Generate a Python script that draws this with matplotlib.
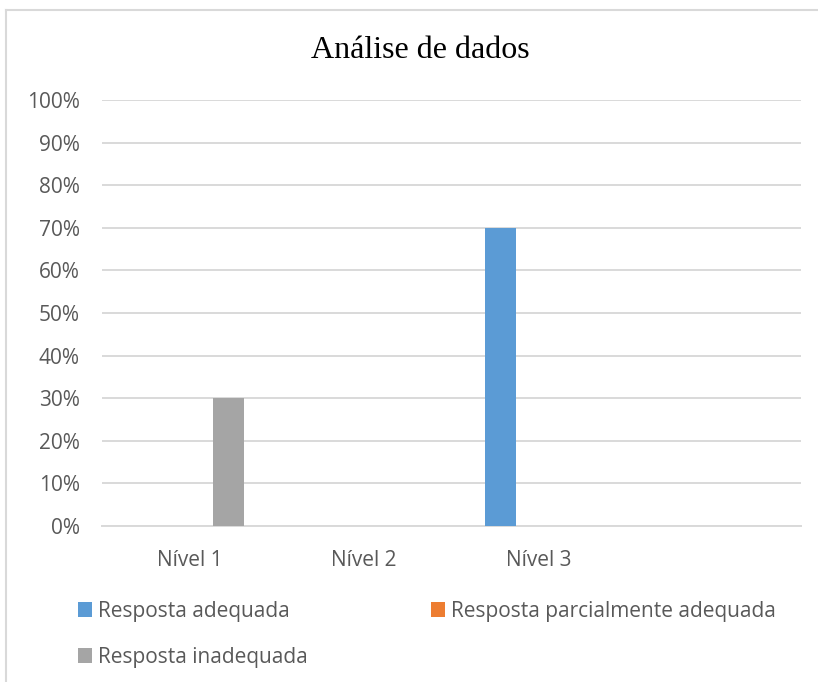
import numpy as np
import matplotlib.pyplot as plt
from matplotlib.lines import Line2D
from matplotlib.ticker import PercentFormatter

# data
categories = ['Nível 1', 'Nível 2', 'Nível 3', '']
series_names = ['Resposta adequada', 'Resposta parcialmente adequada', 'Resposta inadequada']
adequada = [0.0, 0.0, 0.70, 0.0]
parcial = [0.0, 0.0, 0.0, 0.0]
inadequada = [0.30, 0.0, 0.0, 0.0]
colors = ['#5b9bd5', '#ed7d31', '#a5a5a5']

text_col = '#595959'
grid_col = '#d9d9d9'

fig = plt.figure(figsize=(8.18, 6.82), dpi=100)
ax = fig.add_axes([0.1247, 0.2287, 0.8545, 0.6247])

# outer chart frame: only the top and left edges show in the crop
top = 1 - 9.5/682
left = 6/818
fig.lines.append(Line2D([left, 1.0], [top, top], transform=fig.transFigure,
                        color=grid_col, linewidth=1.5))
fig.lines.append(Line2D([left, left], [0, top], transform=fig.transFigure,
                        color=grid_col, linewidth=1.5))

x = np.arange(len(categories))
width = 0.177
offset = 0.222
bars = []
for i, (vals, name) in enumerate(zip([adequada, parcial, inadequada], series_names)):
    bars.append(ax.bar(x + (i - 1) * offset, vals, width, color=colors[i], label=name, zorder=3))

ax.set_xlim(-0.5, len(categories) - 0.5)
ax.set_ylim(0, 1)
ax.set_yticks(np.arange(0, 1.01, 0.1))
ax.yaxis.set_major_formatter(PercentFormatter(1.0, decimals=0))
ax.set_xticks(x)
ax.set_xticklabels(categories)
ax.yaxis.grid(True, color=grid_col, linewidth=1.4, zorder=0)
ax.tick_params(length=0, labelsize=15, labelcolor=text_col, pad=16)
ax.tick_params(axis='x', pad=17)
for s in ['top', 'right', 'left']:
    ax.spines[s].set_visible(False)
ax.spines['bottom'].set_color(grid_col)
ax.spines['bottom'].set_linewidth(1.4)
for lab in ax.get_xticklabels() + ax.get_yticklabels():
    lab.set_family('Open Sans')

fig.text(420/818, 1 - 50/682, 'Análise de dados', ha='center', va='center',
         family='Liberation Serif', fontsize=23, color='black')

# legend fills column-wise, so order entries to read row-wise
order = [0, 2, 1]
fig.legend([bars[i] for i in order], [series_names[i] for i in order],
           loc='upper left', bbox_to_anchor=(59/818, 1 - 582/682), ncol=2, frameon=False,
           prop={'family': 'Open Sans', 'size': 15}, labelcolor=text_col,
           handlelength=0.68, handleheight=0.68, handletextpad=0.3,
           columnspacing=5.9, labelspacing=1.2)

fig.savefig('out.png', dpi=100, facecolor='white')
